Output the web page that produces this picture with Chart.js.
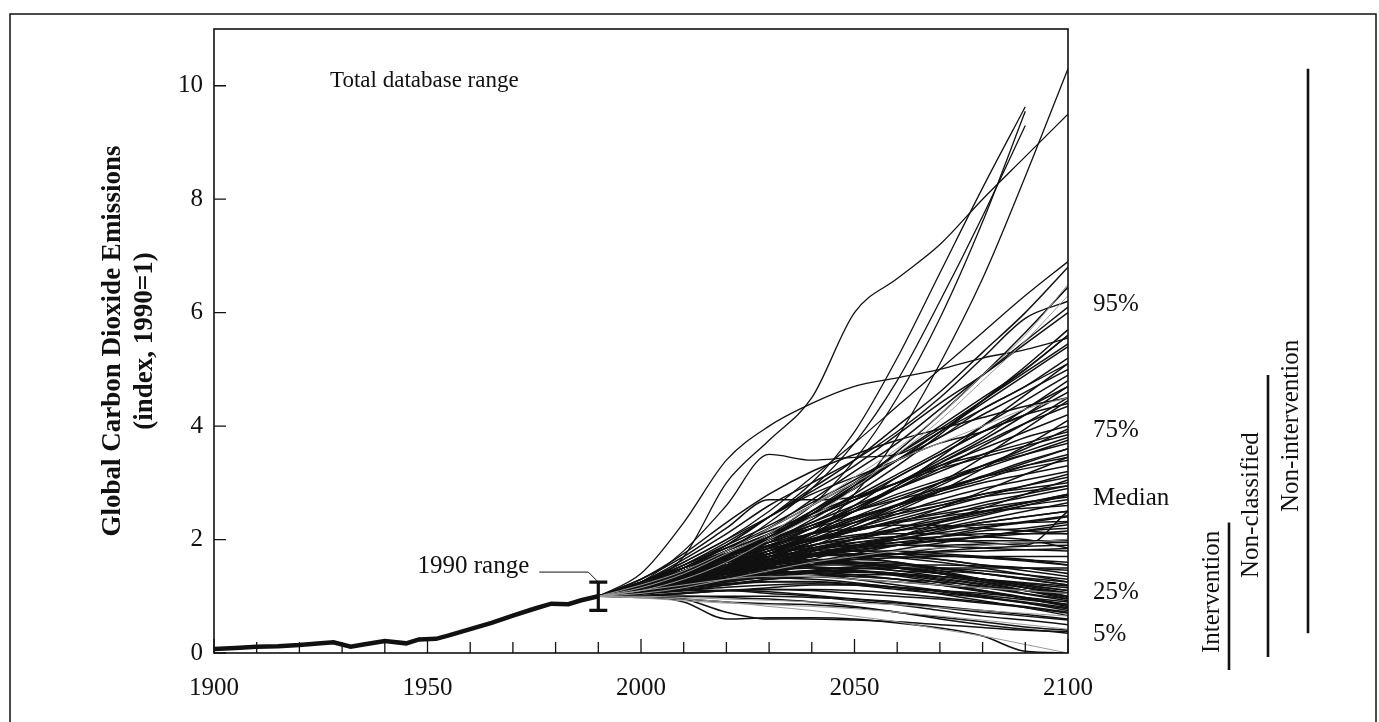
<!DOCTYPE html>
<html>
<head>
<meta charset="utf-8">
<script src="https://cdn.jsdelivr.net/npm/chart.js@4.4.0/dist/chart.umd.min.js"></script>
<style>
  html, body { margin: 0; padding: 0; background: #fff; }
  canvas { display: block; }
</style>
</head>
<body>
<canvas id="chart" width="1379" height="722"></canvas>
<script>
// historical emissions index, 1900-1990
var histYears = [1900,1905,1910,1915,1920,1925,1928,1932,1935,1940,1945,1948,1952,1955,1960,1965,1970,1975,1979,1983,1986,1990];
var histValues = [0.07,0.09,0.11,0.12,0.14,0.17,0.19,0.11,0.15,0.21,0.17,0.24,0.25,0.31,0.42,0.53,0.66,0.78,0.87,0.86,0.93,1.0];

// scenario years and values (index, 1990=1)
var scenarioYears = [1990,2000,2010,2020,2030,2040,2050,2060,2070,2080,2090,2100];

var highScenarios = [
  [1,1.1,1.3,1.5,1.75,2.1,2.8,3.8,5.1,6.6,8.4,10.3],
  [1,1.2,1.7,3.0,3.75,4.5,6.0,6.6,7.2,8.0,8.75,9.5],
  [1,1.2,1.5,1.9,2.4,3.0,3.9,5.2,6.7,8.2,9.63,null],
  [1,1.15,1.4,1.8,2.3,2.9,3.7,4.8,6.2,7.7,9.3,null],
  [1,1.1,1.35,1.7,2.1,2.6,3.4,4.5,5.9,7.6,9.55,null],
  [1,1.4,2.3,3.4,4.0,4.4,4.7,4.85,5.0,5.2,5.35,5.55],
  [1,1.25,1.8,2.6,3.5,3.4,3.45,3.5,3.9,4.3,4.7,5.1],
  [1,1.25,1.6,2.0,2.5,3.1,3.7,4.35,5.0,5.65,6.3,6.9]
];

var upperScenarios = [
  [1,1.1,1.3,1.6,2.0,2.45,2.95,3.55,4.2,4.9,5.65,6.45],
  [1,1.2,1.55,1.95,2.4,2.9,3.4,4.0,4.6,5.3,6.0,6.8],
  [1,1.15,1.45,1.8,2.2,2.7,3.2,3.7,4.3,4.9,5.5,6.1],
  [1,1.2,1.5,1.9,2.4,2.85,3.3,3.85,4.4,4.9,5.45,6.0],
  [1,1.25,1.65,2.1,2.6,3.0,3.4,3.9,4.5,5.2,5.9,6.2],
  [1,1.1,1.3,1.6,2.0,2.5,3.0,3.5,4.0,4.5,5.0,5.6],
  [1,1.15,1.4,1.7,2.05,2.5,2.9,3.4,3.8,4.3,4.7,5.2],
  [1,1.2,1.5,1.85,2.2,2.6,3.0,3.4,3.8,4.2,4.6,5.0],
  [1,1.1,1.3,1.55,1.85,2.2,2.6,3.1,3.5,3.9,4.3,4.8],
  [1,1.15,1.4,1.7,2.0,2.3,2.7,3.1,3.5,3.9,4.2,4.6],
  [1,1.25,1.6,2.0,2.4,2.8,3.1,3.4,3.7,3.9,4.2,4.4],
  [1,1.1,1.25,1.5,1.8,2.1,2.5,2.9,3.3,3.6,3.9,4.2],
  [1,1.3,1.75,2.3,2.8,3.2,3.5,3.75,3.95,4.15,4.35,4.5],
  [1,1.2,1.45,1.75,2.1,2.5,2.95,3.4,3.9,4.4,4.9,5.4],
  [1,1.15,1.35,1.6,1.95,2.35,2.8,3.3,3.85,4.45,5.05,5.7],
  [1,1.05,1.2,1.45,1.75,2.1,2.5,2.95,3.45,4.0,4.55,5.1],
  [1,1.3,1.7,2.2,2.7,2.7,2.75,3.0,3.4,3.8,4.3,4.7],
  [1,1.2,1.45,1.75,2.05,2.4,2.75,3.15,3.55,4.0,4.45,4.9],
  [1,1.25,1.55,1.9,2.25,2.65,3.05,3.5,3.95,4.45,4.95,5.45],
  [1,1.15,1.4,1.7,2.05,2.45,2.9,3.4,3.9,4.45,5.0,5.6]
];

var middleScenarios = [
  [1,1.15,1.4,1.7,2.0,2.3,2.6,2.9,3.2,3.5,3.8,4.0],
  [1,1.2,1.5,1.8,2.1,2.4,2.7,3.0,3.3,3.5,3.7,3.9],
  [1,1.1,1.3,1.55,1.8,2.1,2.4,2.7,3.0,3.3,3.55,3.8],
  [1,1.2,1.45,1.7,1.95,2.2,2.5,2.8,3.05,3.3,3.5,3.7],
  [1,1.05,1.2,1.4,1.65,1.95,2.25,2.55,2.85,3.1,3.35,3.6],
  [1,1.15,1.35,1.6,1.85,2.1,2.35,2.6,2.85,3.05,3.3,3.5],
  [1,1.2,1.5,1.75,2.0,2.25,2.5,2.7,2.9,3.1,3.25,3.4],
  [1,1.1,1.25,1.45,1.7,1.95,2.2,2.45,2.7,2.9,3.05,3.2],
  [1,1.15,1.35,1.55,1.8,2.0,2.2,2.4,2.6,2.8,2.95,3.1],
  [1,1.2,1.45,1.7,1.9,2.1,2.3,2.5,2.65,2.8,2.9,3.0],
  [1,1.1,1.2,1.4,1.6,1.8,2.0,2.2,2.4,2.6,2.75,2.9],
  [1,1.15,1.3,1.5,1.7,1.9,2.05,2.2,2.35,2.5,2.65,2.8],
  [1,1.1,1.25,1.45,1.65,1.85,2.0,2.15,2.3,2.45,2.6,2.7],
  [1,1.2,1.4,1.6,1.8,2.0,2.15,2.3,2.4,2.5,2.55,2.6],
  [1,1.1,1.25,1.4,1.55,1.7,1.85,2.0,2.15,2.3,2.4,2.5],
  [1,1.05,1.15,1.3,1.45,1.6,1.75,1.9,2.05,2.2,2.3,2.4],
  [1,1.15,1.35,1.55,1.75,1.9,2.0,2.05,2.0,1.95,1.9,2.5],
  [1,1.25,1.55,1.85,2.15,2.45,2.75,3.0,3.25,3.45,3.65,3.85],
  [1,1.1,1.3,1.5,1.75,2.05,2.35,2.6,2.85,3.1,3.3,3.45],
  [1,1.2,1.4,1.65,1.9,2.1,2.3,2.45,2.6,2.75,2.85,2.95],
  [1,1.15,1.3,1.45,1.6,1.75,1.9,2.05,2.2,2.35,2.5,2.65],
  [1,1.05,1.15,1.3,1.45,1.65,1.85,2.05,2.3,2.55,2.8,3.05],
  [1,1.12,1.28,1.48,1.7,1.95,2.25,2.6,3.0,3.45,3.95,4.45],
  [1,1.18,1.42,1.68,1.95,2.25,2.55,2.9,3.25,3.65,4.05,4.5],
  [1,1.08,1.22,1.4,1.62,1.88,2.18,2.5,2.85,3.25,3.65,4.1],
  [1,1.22,1.5,1.8,2.1,2.4,2.7,3.0,3.35,3.7,4.05,4.35],
  [1,1.15,1.35,1.6,1.9,2.2,2.55,2.95,3.35,3.75,4.2,4.7],
  [1,1.1,1.28,1.5,1.75,2.0,2.3,2.6,2.95,3.3,3.6,3.95],
  [1,1.2,1.45,1.72,2.0,2.25,2.5,2.75,3.0,3.25,3.5,3.75],
  [1,1.15,1.38,1.62,1.88,2.12,2.38,2.62,2.88,3.12,3.38,3.6],
  [1,1.05,1.18,1.35,1.55,1.78,2.02,2.28,2.55,2.85,3.15,3.45],
  [1,1.25,1.5,1.75,2.0,2.2,2.4,2.6,2.8,3.0,3.15,3.3],
  [1,1.1,1.3,1.52,1.75,1.95,2.15,2.35,2.55,2.75,2.95,3.15],
  [1,1.18,1.4,1.6,1.8,1.98,2.15,2.32,2.48,2.65,2.8,2.95],
  [1,1.12,1.3,1.48,1.66,1.84,2.0,2.16,2.32,2.48,2.64,2.8],
  [1,1.2,1.42,1.64,1.84,2.02,2.18,2.32,2.45,2.56,2.66,2.75],
  [1,1.08,1.2,1.35,1.52,1.7,1.88,2.06,2.24,2.42,2.6,2.78]
];

var lowerMiddleScenarios = [
  [1,1.15,1.3,1.45,1.6,1.75,1.85,1.95,2.05,2.15,2.2,2.3],
  [1,1.1,1.25,1.4,1.55,1.7,1.8,1.9,2.0,2.05,2.15,2.2],
  [1,1.2,1.4,1.6,1.75,1.85,1.95,2.0,2.05,2.1,2.1,2.1],
  [1,1.05,1.15,1.3,1.4,1.55,1.65,1.75,1.85,1.9,1.95,2.0],
  [1,1.15,1.35,1.55,1.7,1.8,1.85,1.9,1.9,1.92,1.94,1.95],
  [1,1.1,1.2,1.35,1.5,1.6,1.7,1.75,1.8,1.85,1.88,1.9],
  [1,1.2,1.4,1.6,1.75,1.85,1.9,1.9,1.88,1.85,1.82,1.8],
  [1,1.1,1.25,1.4,1.5,1.6,1.65,1.68,1.7,1.7,1.7,1.7],
  [1,1.15,1.3,1.45,1.6,1.7,1.75,1.75,1.72,1.68,1.64,1.6],
  [1,1.05,1.15,1.25,1.35,1.42,1.48,1.5,1.5,1.5,1.5,1.5],
  [1,1.25,1.5,1.75,1.95,2.1,2.2,2.25,2.25,2.2,2.15,2.1],
  [1,1.1,1.3,1.5,1.7,1.9,2.05,2.1,2.1,2.05,2.0,1.85],
  [1,1.2,1.35,1.5,1.65,1.75,1.8,1.8,1.75,1.7,1.65,1.55],
  [1,1.15,1.32,1.5,1.66,1.8,1.94,2.06,2.18,2.3,2.4,2.5],
  [1,1.1,1.25,1.42,1.58,1.74,1.88,2.0,2.12,2.22,2.32,2.42],
  [1,1.22,1.45,1.66,1.84,1.98,2.08,2.16,2.22,2.26,2.3,2.32],
  [1,1.06,1.16,1.28,1.42,1.56,1.7,1.82,1.94,2.06,2.16,2.26],
  [1,1.14,1.3,1.46,1.6,1.72,1.82,1.9,1.98,2.04,2.1,2.15],
  [1,1.2,1.38,1.55,1.7,1.82,1.9,1.95,1.97,1.98,1.98,1.98],
  [1,1.1,1.24,1.38,1.5,1.6,1.68,1.74,1.78,1.8,1.82,1.84],
  [1,1.16,1.34,1.5,1.62,1.7,1.74,1.74,1.72,1.68,1.62,1.55],
  [1,1.08,1.18,1.28,1.38,1.46,1.52,1.55,1.55,1.53,1.5,1.46]
];

var lowerScenarios = [
  [1,1.15,1.3,1.45,1.6,1.7,1.75,1.7,1.65,1.55,1.5,1.4],
  [1,1.1,1.25,1.4,1.5,1.6,1.6,1.58,1.5,1.45,1.38,1.3],
  [1,1.2,1.4,1.6,1.7,1.75,1.7,1.6,1.5,1.4,1.3,1.2],
  [1,1.05,1.15,1.25,1.35,1.4,1.42,1.4,1.35,1.3,1.22,1.15],
  [1,1.1,1.2,1.35,1.45,1.5,1.5,1.45,1.4,1.3,1.2,1.1],
  [1,1.15,1.3,1.45,1.55,1.6,1.58,1.5,1.4,1.28,1.15,1.05],
  [1,1.05,1.1,1.2,1.3,1.35,1.35,1.3,1.25,1.18,1.1,1.0],
  [1,1.1,1.2,1.3,1.4,1.45,1.45,1.4,1.3,1.2,1.05,0.95],
  [1,1.0,1.05,1.1,1.15,1.2,1.2,1.15,1.1,1.05,0.98,0.9],
  [1,1.1,1.25,1.35,1.4,1.4,1.35,1.3,1.2,1.1,0.98,0.85],
  [1,1.05,1.12,1.2,1.25,1.25,1.2,1.12,1.05,0.98,0.9,0.8],
  [1,1.15,1.3,1.4,1.45,1.4,1.3,1.2,1.1,1.0,0.88,0.75],
  [1,1.0,1.05,1.1,1.12,1.1,1.05,1.0,0.95,0.88,0.8,0.7],
  [1,1.1,1.2,1.3,1.38,1.45,1.5,1.5,1.45,1.4,1.32,1.25],
  [1,1.2,1.35,1.5,1.65,1.75,1.8,1.75,1.65,1.55,1.45,1.35],
  [1,1.1,1.25,1.4,1.55,1.65,1.65,1.6,1.45,1.3,1.15,1.0],
  [1,1.05,1.2,1.35,1.5,1.55,1.55,1.5,1.4,1.25,1.1,0.95],
  [1,1.15,1.3,1.45,1.55,1.6,1.55,1.45,1.35,1.25,1.15,1.05],
  [1,1.1,1.2,1.3,1.35,1.35,1.3,1.25,1.2,1.15,1.1,1.05],
  [1,1.2,1.35,1.5,1.6,1.65,1.6,1.5,1.4,1.3,1.2,1.1],
  [1,1.2,1.38,1.54,1.66,1.72,1.72,1.68,1.6,1.5,1.38,1.25],
  [1,1.12,1.26,1.4,1.5,1.56,1.58,1.55,1.48,1.4,1.3,1.2],
  [1,1.06,1.14,1.22,1.3,1.35,1.38,1.38,1.35,1.3,1.24,1.18],
  [1,1.18,1.34,1.48,1.58,1.62,1.6,1.52,1.42,1.3,1.18,1.06],
  [1,1.1,1.22,1.32,1.4,1.44,1.44,1.4,1.32,1.22,1.1,0.98],
  [1,1.04,1.1,1.16,1.2,1.22,1.2,1.16,1.1,1.02,0.94,0.86],
  [1,1.14,1.28,1.4,1.48,1.5,1.46,1.38,1.28,1.16,1.04,0.92],
  [1,1.08,1.16,1.22,1.26,1.26,1.22,1.16,1.08,0.98,0.88,0.78],
  [1,1.12,1.24,1.34,1.4,1.42,1.38,1.3,1.2,1.08,0.96,0.84],
  [1,1.02,1.06,1.1,1.12,1.12,1.1,1.05,0.98,0.9,0.82,0.72],
  [1,1.1,1.2,1.28,1.32,1.3,1.24,1.15,1.04,0.92,0.8,0.66],
  [1,1.15,1.32,1.45,1.52,1.52,1.46,1.36,1.24,1.1,0.96,0.82]
];

var lowestScenarios = [
  [1,1.0,1.0,1.0,1.0,0.98,0.95,0.9,0.82,0.75,0.68,0.6],
  [1,1.05,1.1,1.1,1.05,1.0,0.92,0.85,0.75,0.65,0.58,0.5],
  [1,0.98,0.95,0.9,0.87,0.85,0.8,0.72,0.63,0.55,0.46,0.4],
  [1,1.0,1.0,0.98,0.95,0.9,0.82,0.72,0.6,0.5,0.42,0.35],
  [1,1.0,0.9,0.6,0.62,0.62,0.6,0.53,0.44,0.3,0.03,0.0],
  [1,1.0,0.95,0.72,0.6,0.6,0.58,0.55,0.5,0.45,0.4,0.38],
  [1,1.05,1.1,1.1,1.08,1.02,0.95,0.88,0.8,0.72,0.65,0.58]
];

var greyScenarios = [
  [1,1.1,1.3,1.6,2.0,2.4,2.9,3.5,4.1,4.8,5.5,6.3],
  [1,1.15,1.4,1.75,2.1,2.6,3.1,3.6,4.2,4.9,5.6,6.5],
  [1,1.05,1.15,1.3,1.45,1.6,1.7,1.8,1.85,1.9,1.95,2.0],
  [1,1.0,0.98,0.95,0.93,0.9,0.88,0.85,0.8,0.75,0.7,0.65],
  [1,1.1,1.2,1.3,1.35,1.35,1.3,1.25,1.2,1.15,1.1,1.05],
  [1,1.2,1.45,1.8,2.2,2.6,3.0,3.4,3.7,4.0,4.3,4.5],
  [1,0.98,0.95,0.9,0.82,0.75,0.65,0.55,0.42,0.3,0.15,0.0],
  [1,0.97,0.92,0.88,0.85,0.82,0.78,0.72,0.65,0.58,0.5,0.42]
];

// 1990 range bar
var rangeYear = 1990;
var rangeLow = 0.75;
var rangeHigh = 1.25;

// tick labels
var xTickValues = [1900,1950,2000,2050,2100];
var yTickValues = [0,2,4,6,8,10];

// percentiles of the 2100 values
var pctLabels = ['95%','75%','Median','25%','5%'];
var pctValues = [6.15, 3.93, 2.73, 1.06, 0.32];

// 2100 ranges by scenario category
var catLabels = ['Intervention','Non-classified','Non-intervention'];
var catLow = [-0.3, -0.07, 0.35];
var catHigh = [2.3, 4.9, 10.3];

var serif = '"Liberation Serif", "Times New Roman", serif';
var ink = '#111';

var datasets = [];
function addGroup(group, color, width){
  for (var i = 0; i < group.length; i++){
    var pts = [];
    for (var j = 0; j < scenarioYears.length; j++){
      if (group[i][j] !== null) pts.push({x: scenarioYears[j], y: group[i][j]});
    }
    datasets.push({
      data: pts, borderColor: color, borderWidth: width,
      pointRadius: 0, fill: false, cubicInterpolationMode: 'monotone'
    });
  }
}
addGroup(greyScenarios, '#9a9a9a', 1);
addGroup(lowestScenarios, ink, 1.5);
addGroup(lowerScenarios, ink, 1.5);
addGroup(lowerMiddleScenarios, ink, 1.5);
addGroup(middleScenarios, ink, 1.5);
addGroup(upperScenarios, ink, 1.5);
addGroup(highScenarios, ink, 1.3);

var hist = [];
for (var k = 0; k < histYears.length; k++) hist.push({x: histYears[k], y: histValues[k]});
datasets.push({data: hist, borderColor: ink, borderWidth: 4.5, pointRadius: 0, fill: false, tension: 0});

var decorations = {
  id: 'decorations',
  afterDraw: function(chart){
    var ctx = chart.ctx;
    var a = chart.chartArea;
    var xs = chart.scales.x, ys = chart.scales.y;
    ctx.save();
    ctx.strokeStyle = ink;
    ctx.fillStyle = ink;

    // outer frame
    ctx.lineWidth = 1.5;
    ctx.strokeRect(10, 14, 1366, 740);

    // plot box
    ctx.lineWidth = 1.6;
    ctx.strokeRect(a.left, a.top, a.right - a.left, a.bottom - a.top);

    // inward ticks
    ctx.lineWidth = 1.3;
    ctx.beginPath();
    for (var i = 0; i < yTickValues.length; i++){
      var ty = ys.getPixelForValue(yTickValues[i]);
      ctx.moveTo(a.left, ty); ctx.lineTo(a.left + 12, ty);
    }
    for (var yr = 1900; yr <= 2100; yr += 10){
      var tx = xs.getPixelForValue(yr);
      var len = (yr % 50 === 0) ? 14 : 11;
      ctx.moveTo(tx, a.bottom); ctx.lineTo(tx, a.bottom - len);
    }
    ctx.stroke();

    // 1990 range bar
    var bx = xs.getPixelForValue(rangeYear);
    var bTop = ys.getPixelForValue(rangeHigh), bBot = ys.getPixelForValue(rangeLow);
    ctx.lineWidth = 3.2;
    ctx.beginPath();
    ctx.moveTo(bx, bTop); ctx.lineTo(bx, bBot);
    ctx.moveTo(bx - 9, bTop); ctx.lineTo(bx + 9, bTop);
    ctx.moveTo(bx - 9, bBot); ctx.lineTo(bx + 9, bBot);
    ctx.stroke();

    ctx.font = '25px ' + serif;
    ctx.textBaseline = 'middle';
    ctx.textAlign = 'right';
    ctx.fillText('1990 range', bx - 69, bTop - 16);
    ctx.lineWidth = 1;
    ctx.beginPath();
    ctx.moveTo(bx - 59, bTop - 10);
    ctx.lineTo(bx - 10, bTop - 10);
    ctx.lineTo(bx - 1, bTop - 1);
    ctx.stroke();

    // database label
    ctx.textAlign = 'left';
    ctx.font = '23px ' + serif;
    ctx.fillText('Total database range', 330, 81);

    // percentile labels
    ctx.font = '25px ' + serif;
    for (var p = 0; p < pctLabels.length; p++){
      ctx.fillText(pctLabels[p], a.right + 25, ys.getPixelForValue(pctValues[p]));
    }

    // category ranges
    var catX = [1229, 1268, 1308];
    var textStart = [653, 578, 512];
    for (var c = 0; c < catLabels.length; c++){
      ctx.lineWidth = 2.6;
      ctx.beginPath();
      ctx.moveTo(catX[c], ys.getPixelForValue(catHigh[c]));
      ctx.lineTo(catX[c], ys.getPixelForValue(catLow[c]));
      ctx.stroke();
      ctx.save();
      ctx.translate(catX[c] - 17, textStart[c]);
      ctx.rotate(-Math.PI / 2);
      ctx.textAlign = 'left';
      ctx.textBaseline = 'middle';
      ctx.fillText(catLabels[c], 0, 0);
      ctx.restore();
    }
    ctx.restore();
  }
};

new Chart(document.getElementById('chart'), {
  type: 'line',
  data: { datasets: datasets },
  options: {
    responsive: false,
    animation: false,
    devicePixelRatio: 1,
    layout: { padding: { left: 0, top: 29, right: 311, bottom: 0 } },
    plugins: { legend: { display: false }, tooltip: { enabled: false } },
    scales: {
      x: {
        type: 'linear', min: 1900, max: 2100,
        afterBuildTicks: function(s){ s.ticks = xTickValues.map(function(v){ return {value: v}; }); },
        afterFit: function(s){ s.height = 69; },
        ticks: {
          font: { family: serif, size: 25 }, color: ink, padding: 20, maxRotation: 0, autoSkip: false,
          callback: function(v){ return String(v); }
        },
        grid: { display: false, drawTicks: false },
        border: { display: false }
      },
      y: {
        min: 0, max: 11,
        afterBuildTicks: function(s){ s.ticks = yTickValues.map(function(v){ return {value: v}; }); },
        afterFit: function(s){ s.width = 214; },
        ticks: { font: { family: serif, size: 25 }, color: ink, padding: 11 },
        grid: { display: false, drawTicks: false },
        border: { display: false },
        title: {
          display: true,
          text: ['Global Carbon Dioxide Emissions', '(index, 1990=1)'],
          color: ink,
          font: { family: serif, size: 27, weight: 'bold', lineHeight: 1.15 },
          padding: { top: 98, bottom: 0 }
        }
      }
    }
  },
  plugins: [decorations]
});
</script>
</body>
</html>
